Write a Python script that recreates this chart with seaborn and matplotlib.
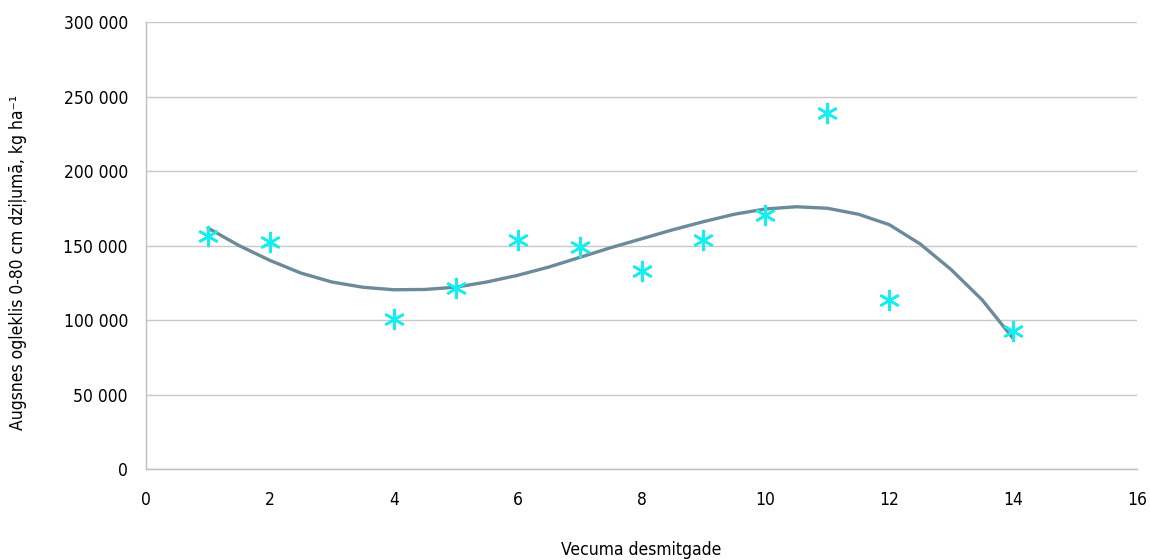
import matplotlib
matplotlib.use("Agg")
import matplotlib.pyplot as plt
import matplotlib.ticker as mticker
import seaborn as sns
import pandas as pd

# Data
decades = [1, 2, 4, 5, 6, 7, 8, 9, 10, 11, 12, 14]
carbon = [156300, 152200, 100700, 121400, 153600, 148900, 132700, 154000, 170300, 239000, 113500, 92800]

trend_x = [1, 1.5, 2, 2.5, 3, 3.5, 4, 4.5, 5, 5.5, 6, 6.5, 7, 7.5, 8, 8.5, 9, 9.5,
           10, 10.5, 11, 11.5, 12, 12.5, 13, 13.5, 14]
trend_y = [161700, 150000, 140000, 131500, 125500, 122000, 120300, 120500, 122000, 125500,
           130000, 135500, 142000, 148500, 154500, 160500, 166000, 171000,
           174500, 176000, 175000, 171000, 164000, 151000, 133800, 113500, 87600]

x_ticks = [0, 2, 4, 6, 8, 10, 12, 14, 16]
y_ticks = [0, 50000, 100000, 150000, 200000, 250000, 300000]
x_label = "Vecuma desmitgade"
y_label = "Augsnes ogleklis 0-80 cm dziļumā, kg ha\u207b\u00b9"

sns.set_theme(style="white")
plt.rcParams['font.family'] = ['DejaVu Sans']
plt.rcParams['font.stretch'] = 'condensed'

fig = plt.figure(figsize=(11.5, 5.6), dpi=100)
ax = fig.add_axes([0.127, 0.1625, 0.8617, 0.7982])

df_pts = pd.DataFrame({"x": decades, "y": carbon})
df_tr = pd.DataFrame({"x": trend_x, "y": trend_y})

sns.lineplot(data=df_tr, x="x", y="y", ax=ax, color="#6B8A9A", linewidth=2.4,
             sort=False, estimator=None, zorder=3)
sns.scatterplot(data=df_pts, x="x", y="y", ax=ax, marker=(6, 2, 0), s=190,
                color="#10F0F0", edgecolor="#10F0F0", linewidth=1.8, zorder=4)

ax.set_xlim(0, 16)
ax.set_ylim(0, 300000)
ax.set_xticks(x_ticks)
ax.set_yticks(y_ticks)
ax.yaxis.set_major_formatter(mticker.FuncFormatter(lambda v, p: f"{int(v):,}".replace(",", " ")))

ax.grid(axis="y", color="#C8C8C8", linewidth=1.0)
ax.grid(axis="x", visible=False)
for s in ["top", "right"]:
    ax.spines[s].set_visible(False)
for s in ["left", "bottom"]:
    ax.spines[s].set_color("#BFBFBF")
    ax.spines[s].set_linewidth(1.0)

ax.tick_params(axis="both", which="major", length=7, width=1.0, color="#BFBFBF",
               labelsize=12.5, labelcolor="#000000", direction="out")
ax.tick_params(axis="y", pad=6)
ax.tick_params(axis="x", pad=9)

ax.set_xlabel(x_label, fontsize=12.5, color="#000000", va="center")
ax.set_ylabel(y_label, fontsize=12.5, color="#000000", va="center")
ax.xaxis.set_label_coords(0.5, -0.181)
ax.yaxis.set_label_coords(-0.129, 0.462)

fig.savefig("out.png", dpi=100)
